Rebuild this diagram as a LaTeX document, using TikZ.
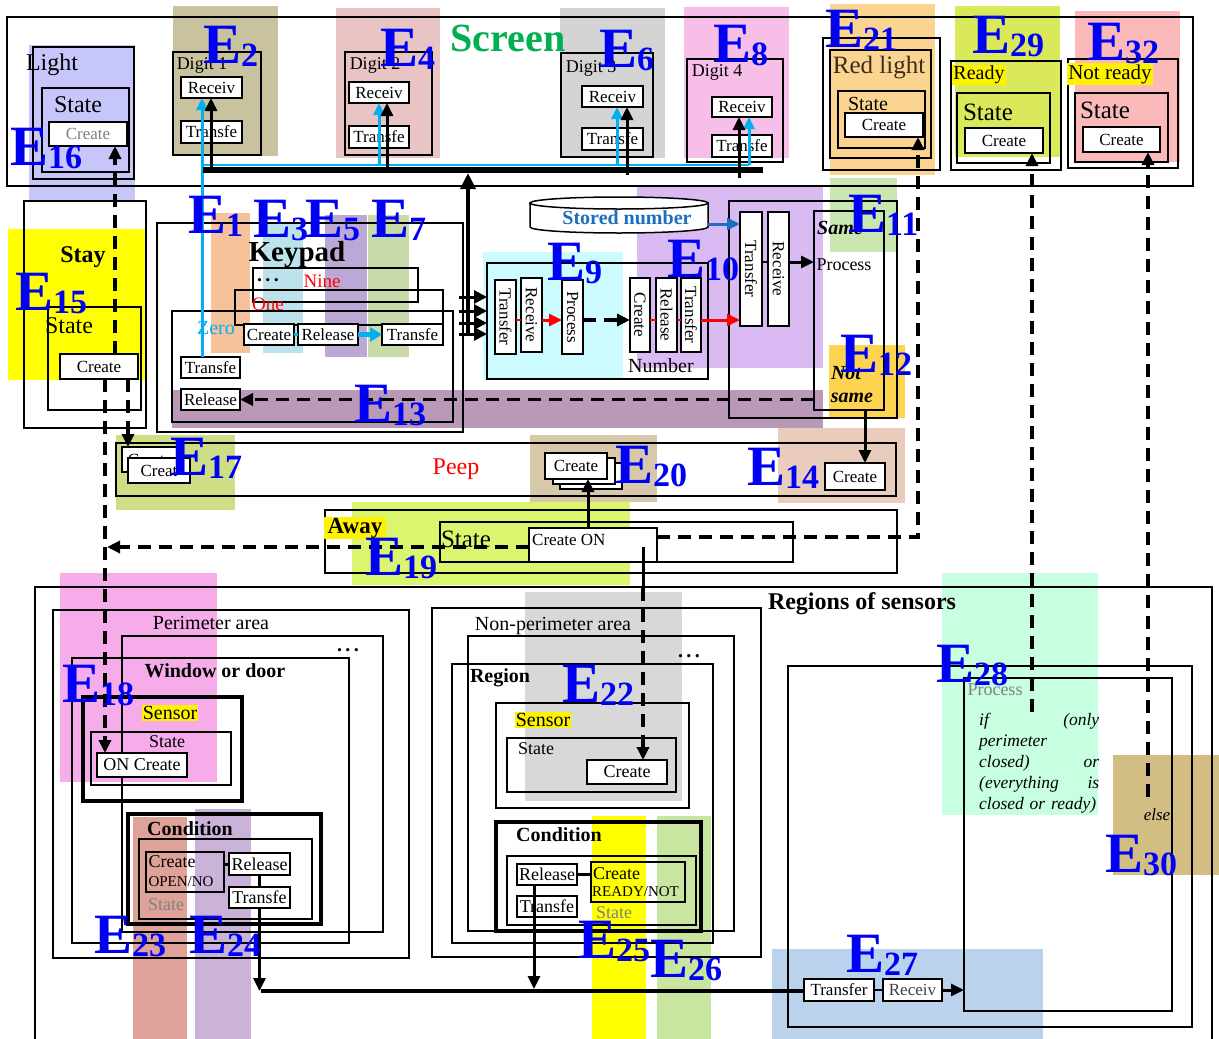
\documentclass[tikz,border=0pt]{standalone}
\usepackage{fontspec}
\setmainfont{Liberation Serif}
\usetikzlibrary{arrows.meta}
\definecolor{eblue}{RGB}{0,0,245}
\definecolor{scrgreen}{RGB}{0,176,80}
\definecolor{zcyan}{RGB}{0,176,240}
\definecolor{stblue}{RGB}{30,110,190}
\definecolor{rlbrown}{RGB}{60,45,25}
\definecolor{pE2}{RGB}{200,194,158}
\definecolor{pE4}{RGB}{232,196,196}
\definecolor{pE6}{RGB}{212,212,212}
\definecolor{pE8}{RGB}{247,190,232}
\definecolor{pE21}{RGB}{252,212,145}
\definecolor{pE29}{RGB}{218,233,90}
\definecolor{pE32}{RGB}{252,185,185}
\definecolor{pE16}{RGB}{198,198,250}
\definecolor{pE1}{RGB}{246,194,154}
\definecolor{pE3}{RGB}{188,226,236}
\definecolor{pE5}{RGB}{188,168,212}
\definecolor{pE7}{RGB}{200,218,170}
\definecolor{pE13}{RGB}{186,152,184}
\definecolor{pE15}{RGB}{255,255,0}
\definecolor{pE17}{RGB}{206,222,132}
\definecolor{pE9}{RGB}{204,252,255}
\definecolor{pE10}{RGB}{218,186,242}
\definecolor{pE11}{RGB}{200,232,176}
\definecolor{pE12}{RGB}{252,212,80}
\definecolor{pE14}{RGB}{234,204,188}
\definecolor{pE20}{RGB}{214,200,168}
\definecolor{pE19}{RGB}{218,245,110}
\definecolor{pE18}{RGB}{245,172,232}
\definecolor{pE22}{RGB}{216,216,216}
\definecolor{pE23}{RGB}{222,162,152}
\definecolor{pE24}{RGB}{202,178,216}
\definecolor{pE25}{RGB}{255,255,0}
\definecolor{pE26}{RGB}{200,230,160}
\definecolor{pE27}{RGB}{186,210,236}
\definecolor{pE28}{RGB}{200,255,225}
\definecolor{pE30}{RGB}{210,190,130}
\newcommand\fsz[1]{\fontsize{#1}{#1}\selectfont}
\newcommand\elbl[1]{E\raisebox{-3pt}{\fontsize{34}{34}\selectfont #1}}
\newcommand\mybox[7][]{\node[tb,minimum width={(#5)-(#3)},minimum height={(#6)-(#4)},#1] (#2) at ({((#3)+(#5))/2},{((#4)+(#6))/2}) {#7};}
\newcommand\myrbox[6]{\node[tb,rotate=-90,minimum width={(#5)-(#3)},minimum height={(#4)-(#2)}] (#1) at ({((#2)+(#4))/2},{((#3)+(#5))/2}) {#6};}
\begin{document}
\begin{tikzpicture}[x=1pt,y=-1pt,
 bx/.style={draw,line width=1.5pt},
 tb/.style={draw,fill=white,line width=1.5pt,inner sep=0pt,outer sep=0pt,font=\fsz{17}},
 lbl/.style={inner sep=0pt,font=\fsz{18}},
 elabel/.style={inner sep=0pt,text=eblue,font=\fsz{57}\bfseries,anchor=base west},
 atip/.style={-{Triangle[length=13pt,width=12pt]}},
 arr/.style={line width=3pt,atip},
 darr/.style={line width=3.5pt,dash pattern=on 13pt off 8pt,atip},
 cyarr/.style={line width=3pt,zcyan,-{Triangle[length=12pt,width=11pt]}},
 redarr/.style={line width=3pt,red,-{Triangle[length=13pt,width=12pt]}},
 ybg/.style={fill=yellow,inner sep=1pt}
]
\useasboundingbox (0,0) rectangle (1219,1039);
\fill[white] (0,0) rectangle (1219,1039);
% ---------- colour patches
\fill[pE2] (173,6) rectangle (278,156);
\fill[pE4] (336,8) rectangle (440,158);
\fill[pE6] (560,8) rectangle (665,158);
\fill[pE8] (684,7) rectangle (789,158);
\fill[pE21] (830,4) rectangle (935,175);
\fill[pE29] (955,6) rectangle (1060,157);
\fill[pE32] (1075,11) rectangle (1180,162);
\fill[pE16] (29,45) rectangle (135,200);
\fill[pE1] (211,213) rectangle (250,353);
\fill[pE3] (263,223) rectangle (303,353);
\fill[pE5] (325,215) rectangle (367,357);
\fill[pE7] (368,215) rectangle (409,357);
\fill[pE13] (172,390) rectangle (823,428);
\fill[pE15] (8,229) rectangle (146,380);
\fill[pE17] (116,435) rectangle (235,510);
\fill[pE9] (483,252) rectangle (623,380);
\fill[pE10] (637,186) rectangle (823,368);
\fill[pE11] (830,178) rectangle (897,252);
\fill[pE12] (829,345) rectangle (905,418);
\fill[pE14] (778,428) rectangle (905,503);
\fill[pE20] (530,435) rectangle (657,502);
\fill[pE19] (352,502) rectangle (630,585);
\fill[pE18] (60,573) rectangle (217,782);
\fill[pE22] (525,592) rectangle (682,801);
\fill[pE23] (133,817) rectangle (187,1039);
\fill[pE24] (195,809) rectangle (251,1039);
\fill[pE25] (592,816) rectangle (646,1039);
\fill[pE26] (657,816) rectangle (711,1039);
\fill[pE27] (772,949) rectangle (1043,1039);
\fill[pE28] (942,573) rectangle (1098,815);
\fill[pE30] (1113,755) rectangle (1219,875);
% ---------- screen
\draw[bx] (7,17) rectangle (1193,186);
\node[inner sep=0pt,font=\fsz{40}\bfseries,text=scrgreen] (scr) at (508,38) {Screen};
% light
\draw[bx] (33,47) rectangle (134,179);
\draw[bx] (42,88) rectangle (129,172);
\node[lbl,font=\fsz{24}] (tlight) at (52,65) {Light};
\node[lbl,font=\fsz{24}] (tlst) at (78,105) {State};
\mybox[text=gray]{lcr}{49}{122}{127}{146}{Create}
% digits
\draw[bx] (173,52) rectangle (261,155);
\node[lbl] (td1) at (202,65) {Digit 1};
\mybox{d1r}{181}{77}{242}{98}{Receiv}
\mybox{d1t}{181}{121}{242}{143}{Transfe}
\draw[bx] (345,52) rectangle (432,155);
\node[lbl] (td2) at (375,65) {Digit 2};
\mybox{d2r}{349}{82}{409}{103}{Receiv}
\mybox{d2t}{349}{126}{409}{148}{Transfe}
\draw[bx] (561,53) rectangle (653,157);
\node[lbl] (td3) at (591,68) {Digit 3};
\mybox{d3r}{582}{86}{643}{107}{Receiv}
\mybox{d3t}{582}{128}{643}{150}{Transfe}
\draw[bx] (687,59) rectangle (783,162);
\node[lbl] (td4) at (717,72) {Digit 4};
\mybox{d4r}{712}{97}{772}{117}{Receiv}
\mybox{d4t}{712}{135}{772}{157}{Transfe}
% red light
\draw[bx] (823,38) rectangle (940,170);
\draw[bx] (830,50) rectangle (931,158);
\node[lbl,font=\fsz{25},text=rlbrown] (trl) at (879,68) {Red light};
\draw[bx] (838,91) rectangle (925,148);
\node[lbl,font=\fsz{20}] (trls) at (868,104) {State};
\mybox{rlc}{845}{113}{923}{137}{Create}
% ready
\draw[bx] (951,61) rectangle (1061,170);
\node[ybg,font=\fsz{20}] (trd) at (979,75) {Ready};
\draw[bx] (957,93) rectangle (1050,163);
\node[lbl,font=\fsz{25}] (trds) at (988,112) {State};
\mybox{rdc}{965}{128}{1043}{153}{Create}
% not ready
\draw[bx] (1068,59) rectangle (1178,168);
\node[ybg,font=\fsz{21}] (tnr) at (1110,74) {Not ready};
\draw[bx] (1075,93) rectangle (1168,162);
\node[lbl,font=\fsz{25}] (tnrs) at (1105,110) {State};
\mybox{nrc}{1083}{127}{1160}{152}{Create}
% ---------- stay
\draw[bx] (24,201) rectangle (146,428);
\node[lbl,font=\fsz{24}\bfseries] (tstay) at (83,257) {Stay};
\draw[bx] (48,307) rectangle (141,410);
\node[lbl,font=\fsz{24}] (tsts) at (69,326) {State};
\mybox{stc}{60}{354}{138}{379}{Create}
% ---------- keypad
\draw[bx] (157,223) rectangle (463,432);
\node[lbl,font=\fsz{29}\bfseries] (tkey) at (297,255) {Keypad};
\draw[bx] (253,268) rectangle (418,302);
\draw[bx] (235,290) rectangle (443,325);
\draw[bx] (172,311) rectangle (453,422);
\node[lbl,font=\fsz{20}\bfseries] (tdots) at (268,280) {.\,.\,.};
\node[lbl,font=\fsz{19},text=red] (tnine) at (322,281) {Nine};
\node[lbl,font=\fsz{19},text=red] (tone) at (268,304) {One};
\node[lbl,font=\fsz{20},text=zcyan] (tzero) at (216,328) {Zero};
\mybox{kcr}{244}{324}{294}{345}{Create}
\mybox{krs}{298}{324}{358}{345}{Release}
\mybox{ktf}{382}{324}{443}{345}{Transfe}
\mybox{kt2}{181}{357}{240}{378}{Transfe}
\mybox{krl}{181}{389}{240}{410}{Release}
% ---------- number
\node[bx,inner sep=0pt,outer sep=0pt,minimum width=221,minimum height=116] (nbx) at (597.5,321) {};
\myrbox{n1}{495}{280}{516}{354}{Transfer}
\myrbox{n2}{521}{278}{542}{352}{Receive}
\myrbox{n3}{562}{280}{583}{354}{Process}
\myrbox{n4}{630}{278}{650}{352}{Create}
\myrbox{n5}{656}{278}{677}{352}{Release}
\myrbox{n6}{681}{278}{701}{352}{Transfer}
\node[lbl,font=\fsz{20}] (tnum) at (661,366) {Number};
% stored number
\filldraw[fill=white,line width=1.5pt] (530,203) -- (530,227) arc[start angle=180,end angle=0,x radius=89,y radius=6] -- (708,203) -- cycle;
\filldraw[fill=white,line width=1.5pt] (619,203) ellipse [x radius=89,y radius=6];
\node[lbl,font=\fsz{20}\bfseries,text=stblue] (tstored) at (627,218) {Stored number};
\coordinate (cylR) at (708,224);
% E10 / same
\draw[bx] (729,201) rectangle (897,418);
\myrbox{e10tr}{740}{212}{762}{326}{Transfer}
\myrbox{e10rc}{768}{212}{789}{326}{Receive}
\node[bx,inner sep=0pt,outer sep=0pt,minimum width=70,minimum height=199] (same) at (849,310.5) {};
\node[lbl,font=\fsz{20}\bfseries\itshape] (tsame) at (840,228) {Same};
\node[lbl] (tproc) at (844,265) {Process};
\node[lbl,font=\fsz{20}\bfseries\itshape] (tnot) at (846,373) {Not};
\node[lbl,font=\fsz{20}\bfseries\itshape] (tns) at (852,398) {same};
% ---------- peep
\draw[bx] (116,443) rectangle (896,496);
\node[lbl,font=\fsz{24},text=red] (tpeep) at (456,469) {Peep};
\mybox{pc1b}{122}{447}{178}{472}{Create}
\mybox{pc1}{128}{458}{190}{483}{Creat}
\mybox{pc2c}{560}{463}{622}{489}{}
\mybox{pc2b}{553}{458}{615}{484}{}
\mybox{pc2}{545}{453}{607}{479}{Create}
\mybox{pc3}{825}{463}{885}{490}{Create}
% ---------- away
\draw[bx] (325,510) rectangle (897,573);
\node[ybg,font=\fsz{23}\bfseries,minimum width=62] (taway) at (355,528) {Away};
\draw[bx] (440,522) rectangle (793,562);
\node[lbl,font=\fsz{25}] (taws) at (466,539) {State};
\mybox{cron}{529}{528}{657}{562}{}
\node[lbl,font=\fsz{17},anchor=west] (tcron) at (532,540) {Create ON};
% ---------- regions of sensors
\draw[bx] (35,1045) -- (35,587) -- (1212,587) -- (1212,1045);
\node[lbl,font=\fsz{24}\bfseries] (treg) at (862,604) {Regions of sensors};
% perimeter
\draw[bx] (53,610) rectangle (409,958);
\node[lbl,font=\fsz{20}] (tper) at (211,623) {Perimeter area};
\draw[bx] (122,636) rectangle (383,932);
\node[lbl,font=\fsz{20}\bfseries] (tpd) at (348,650) {.\,.\,.};
\draw[bx] (72,658) rectangle (349,943);
\node[lbl,font=\fsz{20}\bfseries] (twin) at (215,671) {Window or door};
\draw[line width=3.5pt] (83,697) rectangle (242,801);
\node[ybg,font=\fsz{20}] (tsen1) at (170,713) {Sensor};
\draw[bx] (91,732) rectangle (231,785);
\node[lbl] (tps) at (167,742) {State};
\mybox[font=\fsz{18}]{ponc}{97}{753}{187}{777}{ON Create}
\draw[line width=3.5pt] (128,814) rectangle (321,924);
\node[lbl,font=\fsz{20}\bfseries] (tcond1) at (190,829) {Condition};
\draw[bx] (139,839) rectangle (312,919);
\mybox[fill=none]{pco}{146}{852}{224}{892}{}
\node[lbl] (tpco1) at (172,862) {Create};
\node[lbl,font=\fsz{15}] (tpco2) at (181,882) {OPEN/NO};
\node[lbl,text=gray] (tpst) at (166,905) {State};
\mybox[font=\fsz{18}]{prl}{229}{853}{290}{875}{Release}
\mybox[font=\fsz{18}]{ptf}{229}{887}{290}{908}{Transfe}
% non-perimeter
\draw[bx] (432,608) rectangle (761,957);
\node[lbl,font=\fsz{20}] (tnper) at (553,626) {Non-perimeter area};
\draw[bx] (468,636) rectangle (734,931);
\node[lbl,font=\fsz{20}\bfseries] (tnd) at (689,656) {.\,.\,.};
\draw[bx] (452,664) rectangle (713,943);
\node[lbl,font=\fsz{20}\bfseries] (tregion) at (500,678) {Region};
\draw[line width=2.5pt] (496,703) rectangle (689,808);
\node[ybg,font=\fsz{20}] (tsen2) at (543,720) {Sensor};
\draw[bx] (507,738) rectangle (676,792);
\node[lbl] (tnps) at (536,749) {State};
\mybox[font=\fsz{18}]{npc}{587}{760}{667}{784}{Create}
\draw[line width=4pt] (496,822) rectangle (701,931);
\node[lbl,font=\fsz{20}\bfseries] (tcond2) at (559,835) {Condition};
\draw[bx] (507,856) rectangle (696,925);
\mybox[font=\fsz{18}]{nrl}{517}{864}{577}{885}{Release}
\mybox[font=\fsz{18}]{ntf}{517}{896}{577}{917}{Transfe}
\mybox[fill=none]{ncr}{591}{862}{685}{902}{}
\node[lbl,anchor=west] (tncr1) at (593,874) {Create};
\node[lbl,font=\fsz{15},anchor=west] (tncr2) at (592,892) {READY/NOT};
\node[lbl,text=gray] (tnst) at (614,913) {State};
% right part
\draw[line width=2pt] (788,666) rectangle (1192,1027);
\node[draw,line width=1.5pt,inner sep=0pt,outer sep=0pt,minimum width=208,minimum height=333] (proc) at (1068,844.5) {};
\draw[line width=2.5pt] (1172,818) -- (1172,908);
\node[lbl,text=gray] (tproc2) at (995,690) {Process};
\node[inner sep=0pt,font=\fontsize{17.5}{21}\selectfont\itshape,text width=120,align=left,anchor=north west] (tif) at (979,713) {if \hfill (only\\ perimeter\\ closed) \hfill or\\ (everything \hfill is\\ closed or ready)};
\node[lbl,font=\fsz{17}\itshape] (telse) at (1157,815) {else};
\mybox{rtr}{804}{979}{874}{1001}{Transfer}
\mybox[text=darkgray]{rrc}{883}{979}{942}{1001}{Receiv}
% ---------- connectors
% cyan
\coordinate (cyA) at (202,165);
\coordinate (cyB) at (749,165);
\coordinate (cy2) at (379,165);
\coordinate (cy3) at (617,165);
\draw[zcyan,line width=2.5pt] (cyA) -- (cyB);
\draw[cyarr] (kt2.north -| cyA) -- (d1r.south -| cyA);
\draw[cyarr] (cy2) -- (cy2 |- d2r.south);
\draw[cyarr] (cy3) -- (cy3 |- d3r.south);
\draw[cyarr] (cyB) -- (cyB |- d4r.south);
\draw[zcyan,line width=2.5pt] (kcr.east) -- (krs.west);
\draw[line width=4.5pt,zcyan,-{Triangle[length=12pt,width=14pt]}] (krs.east) -- (ktf.west);
% black bus
\coordinate (bbA) at (203,170);
\coordinate (bbB) at (763,170);
\draw[line width=6.5pt] (bbA) -- (bbB);
\coordinate (bk1) at (211,170);
\coordinate (bk2) at (387,170);
\coordinate (bk3) at (627,175);
\coordinate (bk4) at (739,178);
\draw[arr] (bk1) -- (bk1 |- d1r.south);
\draw[arr] (bk2) -- (bk2 |- d2r.south);
\draw[arr] (bk3) -- (bk3 |- d3r.south);
\draw[arr] (bk4) -- (bk4 |- d4r.south);
\coordinate (kvb) at (468,336);
\coordinate (kvt) at (468,173);
\draw[line width=4.5pt,-{Triangle[length=16pt,width=15pt]}] (kvb) -- (kvt);
\foreach \yy/\nm in {297/a,311/b,323/c,334/d}{
  \coordinate (ka\nm) at (459,\yy);
  \draw[line width=3pt,-{Triangle[length=13pt,width=13pt]}] (ka\nm) -- (ka\nm -| nbx.west);
}
% number row
\coordinate (ry) at (0,320);
\draw[red,line width=2.5pt] (n1.north |- ry) -- (n2.south |- ry);
\draw[redarr] (n2.north |- ry) -- (n3.south |- ry);
\draw[darr] (n3.north |- ry) -- (n4.south |- ry);
\draw[red,line width=2.5pt] (n4.north |- ry) -- (n5.south |- ry);
\draw[red,line width=2.5pt] (n5.north |- ry) -- (n6.south |- ry);
\draw[redarr] (n6.north |- ry) -- (e10tr.south |- ry);
\draw[stblue,line width=3pt,-{Triangle[length=13pt,width=12pt]}] (cylR) -- (cylR -| e10tr.south);
\coordinate (py) at (0,262);
\draw[line width=2.5pt] (e10tr.north |- py) -- (e10rc.south |- py);
\draw[arr] (e10rc.north |- py) -- (same.west |- py);
% not same
\draw[darr] (same.west |- krl.east) -- (krl.east);
\coordinate (x865) at (865,0);
\draw[arr] (same.south -| x865) -- (pc3.north -| x865);
% stay
\coordinate (x115) at (115,0);
\coordinate (x128) at (128,0);
\coordinate (x105) at (105,0);
\draw[darr] (stc.north -| x115) -- (lcr.south -| x115);
\draw[darr] (stc.south -| x128) -- (pc1b.north -| x128);
\draw[darr] (stc.south -| x105) -- (ponc.north -| x105);
% away
\coordinate (y547) at (0,547);
\coordinate (awL) at (107,547);
\coordinate (awR) at (918,537);
\draw[darr] (cron.west |- y547) -- (awL);
\draw[darr] (cron.east |- awR) -- (awR) -- (awR |- rlc.south);
\coordinate (x588) at (588,0);
\draw[arr] (cron.north -| x588) -- (pc2.south -| x588);
\coordinate (x643) at (643,547);
\coordinate (x643b) at (643,588);
\draw[line width=3pt] (x643) -- (x643b);
\draw[darr] (x643b) -- (x643b |- npc.north);
% ready / not ready
\coordinate (rdB) at (1032,712);
\coordinate (nrB) at (1148,797);
\draw[darr] (rdB) -- (rdB |- rdc.south);
\draw[darr] (nrB) -- (nrB |- nrc.south);
% conditions
\draw[line width=3pt] (pco.east |- prl.west) -- (prl.west);
\draw[line width=3pt] (prl.south) -- (ptf.north);
\coordinate (pbus) at (261,991);
\draw[arr] (ptf.south) -- (ptf.south |- pbus);
\draw[line width=3.5pt] (nrl.east) -- (nrl.east -| ncr.west);
\coordinate (x534) at (534,989);
\draw[arr] (nrl.south -| x534) -- (x534);
\draw[line width=3.5pt] (pbus) -- (pbus -| rtr.west);
\draw[line width=2.5pt] (rtr.east) -- (rrc.west);
\draw[arr] (rrc.east) -- (proc.west |- rrc.east);
% ---------- E labels
\node[elabel] (e2) at (203,63) {\elbl{2}};
\node[elabel] (e4) at (380,66) {\elbl{4}};
\node[elabel] (e6) at (599,67) {\elbl{6}};
\node[elabel] (e8) at (713,62) {\elbl{8}};
\node[elabel] (e21) at (825,47) {\elbl{21}};
\node[elabel] (e29) at (972,53) {\elbl{29}};
\node[elabel] (e32) at (1087,60) {\elbl{32}};
\node[elabel] (e16) at (10,165) {\elbl{16}};
\node[elabel] (e1) at (188,233) {\elbl{1}};
\node[elabel] (e3) at (253,237) {\elbl{3}};
\node[elabel] (e5) at (305,237) {\elbl{5}};
\node[elabel] (e7) at (371,237) {\elbl{7}};
\node[elabel] (e15) at (15,310) {\elbl{15}};
\node[elabel] (e13) at (354,422) {\elbl{13}};
\node[elabel] (e17) at (170,475) {\elbl{17}};
\node[elabel] (e9) at (547,280) {\elbl{9}};
\node[elabel] (e10) at (667,277) {\elbl{10}};
\node[elabel] (e11) at (848,232) {\elbl{11}};
\node[elabel] (e12) at (840,372) {\elbl{12}};
\node[elabel] (e20) at (615,483) {\elbl{20}};
\node[elabel] (e14) at (747,485) {\elbl{14}};
\node[elabel] (e19) at (365,575) {\elbl{19}};
\node[elabel] (e18) at (62,702) {\elbl{18}};
\node[elabel] (e22) at (562,702) {\elbl{22}};
\node[elabel] (e23) at (94,953) {\elbl{23}};
\node[elabel] (e24) at (189,953) {\elbl{24}};
\node[elabel] (e25) at (578,958) {\elbl{25}};
\node[elabel] (e26) at (650,977) {\elbl{26}};
\node[elabel] (e27) at (846,972) {\elbl{27}};
\node[elabel] (e28) at (936,682) {\elbl{28}};
\node[elabel] (e30) at (1105,872) {\elbl{30}};
\end{tikzpicture}
\end{document}
